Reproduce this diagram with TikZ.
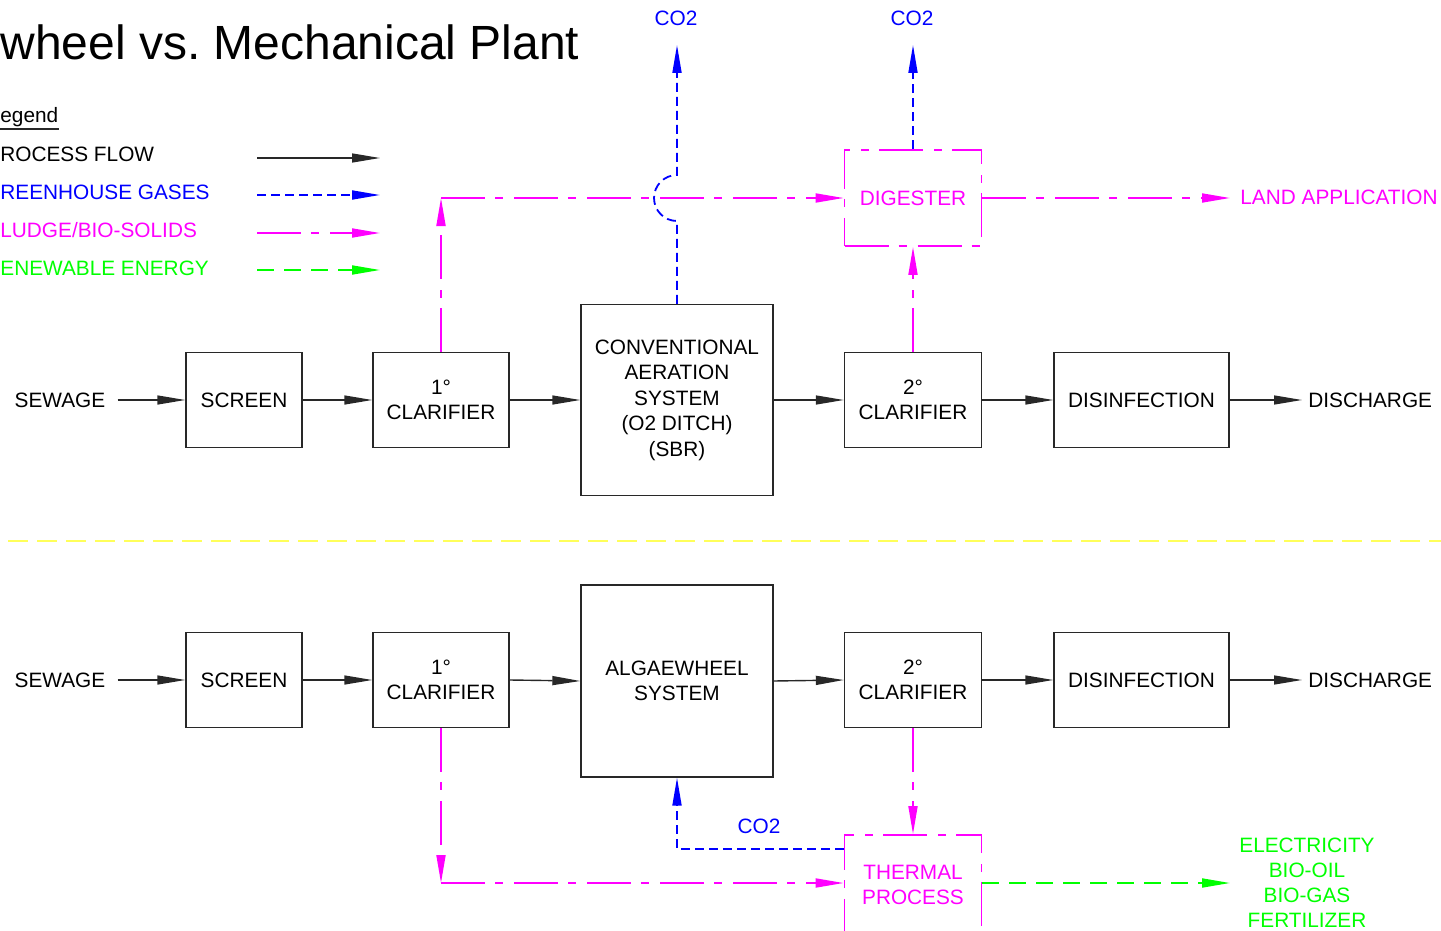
\documentclass[tikz,border=0pt]{standalone}
\usepackage{fontspec}
\setmainfont{Liberation Sans}
\usetikzlibrary{arrows.meta}
\definecolor{mg}{RGB}{255,0,255}
\definecolor{bl}{RGB}{0,0,255}
\definecolor{gr}{RGB}{0,255,0}
\definecolor{yl}{RGB}{255,255,90}
\definecolor{ln}{RGB}{40,40,40}
\begin{document}
\begin{tikzpicture}[x=0.5pt,y=-0.5pt,
  every node/.style={font=\fontsize{10.4}{12.75}\selectfont, inner sep=0pt},
  box/.style={draw=ln, line width=0.7pt, align=center, minimum height=47.5pt},
  pbox/.style={draw=mg, line width=0.9pt, dash pattern=on 22pt off 5pt on 4pt off 5.5pt, align=center, text=mg},
  tip/.style={-{Triangle[length=14pt,width=4.5pt]}},
  flow/.style={tip, draw=ln, line width=0.7pt},
  ghg/.style={tip, draw=bl, line width=0.9pt, dash pattern=on 4.5pt off 2.5pt},
  sludge/.style={tip, draw=mg, line width=0.9pt, dash pattern=on 22pt off 5pt on 4pt off 5.5pt},
  energy/.style={tip, draw=gr, line width=0.9pt, dash pattern=on 8.5pt off 5pt},
]
\fill[white] (0,0) rectangle (1441,931);
\useasboundingbox (0,0) rectangle (1441,931);

% title and legend
\node[anchor=west] (title) at (0,42) {\fontsize{24}{28}\selectfont wheel vs.\ Mechanical Plant};
\node[anchor=west] (leg) at (0,117) {egend};
\draw[ln, line width=0.7pt] ([yshift=-1pt]leg.south west) -- ([yshift=-1pt]leg.south east);
\node[anchor=west] (lpf) at (0,154) {ROCESS FLOW};
\node[anchor=west,text=bl] (lgh) at (0,192) {REENHOUSE GASES};
\node[anchor=west,text=mg] (lsl) at (0,230) {LUDGE/BIO-SOLIDS};
\node[anchor=west,text=gr] (lre) at (0,268) {ENEWABLE ENERGY};
\coordinate (la1) at (257,158); \coordinate (lb1) at (380,158);
\coordinate (la2) at (257,195); \coordinate (lb2) at (380,195);
\coordinate (la3) at (257,233); \coordinate (lb3) at (380,233);
\coordinate (la4) at (257,270); \coordinate (lb4) at (380,270);
\draw[flow] (la1) -- (lb1);
\draw[ghg] (la2) -- (lb2);
\draw[sludge] (la3) -- (lb3);
\draw[energy] (la4) -- (lb4);

% top row
\node (sew1) at (60,400) {SEWAGE};
\node[box, minimum width=58pt] (scr1) at (244,400) {SCREEN};
\node[box, minimum width=68pt] (cl1) at (441,400) {1°\\CLARIFIER};
\node[box, minimum width=96pt, minimum height=95.5pt] (conv) at (677,400) {CONVENTIONAL\\AERATION\\SYSTEM\\(O2 DITCH)\\(SBR)};
\node[box, minimum width=68.5pt] (cl2) at (913,400) {2°\\CLARIFIER};
\node[box, minimum width=87.5pt] (dis1) at (1141.5,400) {DISINFECTION};
\node[anchor=west] (dch1) at (1308,400) {DISCHARGE};
\coordinate (d1tip) at (1302,400);
\draw[flow, shorten <=6pt] (sew1.east) -- (scr1.west);
\draw[flow] (scr1.east) -- (cl1.west);
\draw[flow] (cl1.east) -- (conv.west);
\draw[flow] (conv.east) -- (cl2.west);
\draw[flow] (cl2.east) -- (dis1.west);
\draw[flow] (dis1.east) -- (d1tip);

% digester and gases
\node[pbox, minimum width=68.5pt, minimum height=48pt] (dig) at (913,198) {DIGESTER};
\node[anchor=west,text=mg] (land) at (1240,197) {LAND APPLICATION};
\coordinate (landtip) at (1230,198);
\node[text=bl] (co2a) at (676,18) {CO2};
\node[text=bl] (co2b) at (912,18) {CO2};
\coordinate (tipa) at (677,45);
\coordinate (tipb) at (913,45);
\coordinate (j1) at (441,198);
\draw[sludge] (cl1.north) -- (j1);
\draw[sludge] (j1) -- (dig.west);
\draw[sludge] (cl2.north) -- (dig.south);
\draw[sludge] (dig.east) -- (landtip);
\draw[ghg] (conv.north) -- (677,221) .. controls (664.3,221) and (654,210.7) .. (654,198)
  .. controls (654,185.3) and (664.3,175) .. (677,175) -- (tipa);
\draw[ghg] (dig.north) -- (tipb);

% separator
\draw[yl, line width=1pt, dash pattern=on 10pt off 4.5pt] (8,541) -- (1441,541);

% bottom row
\node (sew2) at (60,680) {SEWAGE};
\node[box, minimum width=58pt] (scr2) at (244,680) {SCREEN};
\node[box, minimum width=68pt] (cl1b) at (441,680) {1°\\CLARIFIER};
\node[box, minimum width=96pt, minimum height=96pt] (alg) at (677,681) {ALGAEWHEEL\\SYSTEM};
\node[box, minimum width=68.5pt] (cl2b) at (913,680) {2°\\CLARIFIER};
\node[box, minimum width=87.5pt] (dis2) at (1141.5,680) {DISINFECTION};
\node[anchor=west] (dch2) at (1308,680) {DISCHARGE};
\coordinate (d2tip) at (1302,680);
\draw[flow, shorten <=6pt] (sew2.east) -- (scr2.west);
\draw[flow] (scr2.east) -- (cl1b.west);
\draw[flow] (cl1b.east) -- (alg.west);
\draw[flow] (alg.east) -- (cl2b.west);
\draw[flow] (cl2b.east) -- (dis2.west);
\draw[flow] (dis2.east) -- (d2tip);

% thermal process (box runs past the lower edge)
\node[pbox, minimum width=68.5pt, minimum height=50pt] (th) at (913,885) {THERMAL\\PROCESS};
\coordinate (j2) at (441,883);
\draw[sludge] (cl1b.south) -- (j2);
\draw[sludge] (j2) -- (j2 -| th.west);
\draw[sludge] (cl2b.south) -- (th.north);
\draw[ghg] ([yshift=-7.5pt]th.north west) -| (alg.south);
\node[text=bl] (co2c) at (759,826) {CO2};
\coordinate (entip) at (1230,883);
\draw[energy] (th.east |- entip) -- (entip);
\node[text=gr, align=center, font=\fontsize{10.4}{12.5}\selectfont] (prod) at (1307,882.5) {ELECTRICITY\\BIO-OIL\\BIO-GAS\\FERTILIZER};
\end{tikzpicture}
\end{document}
